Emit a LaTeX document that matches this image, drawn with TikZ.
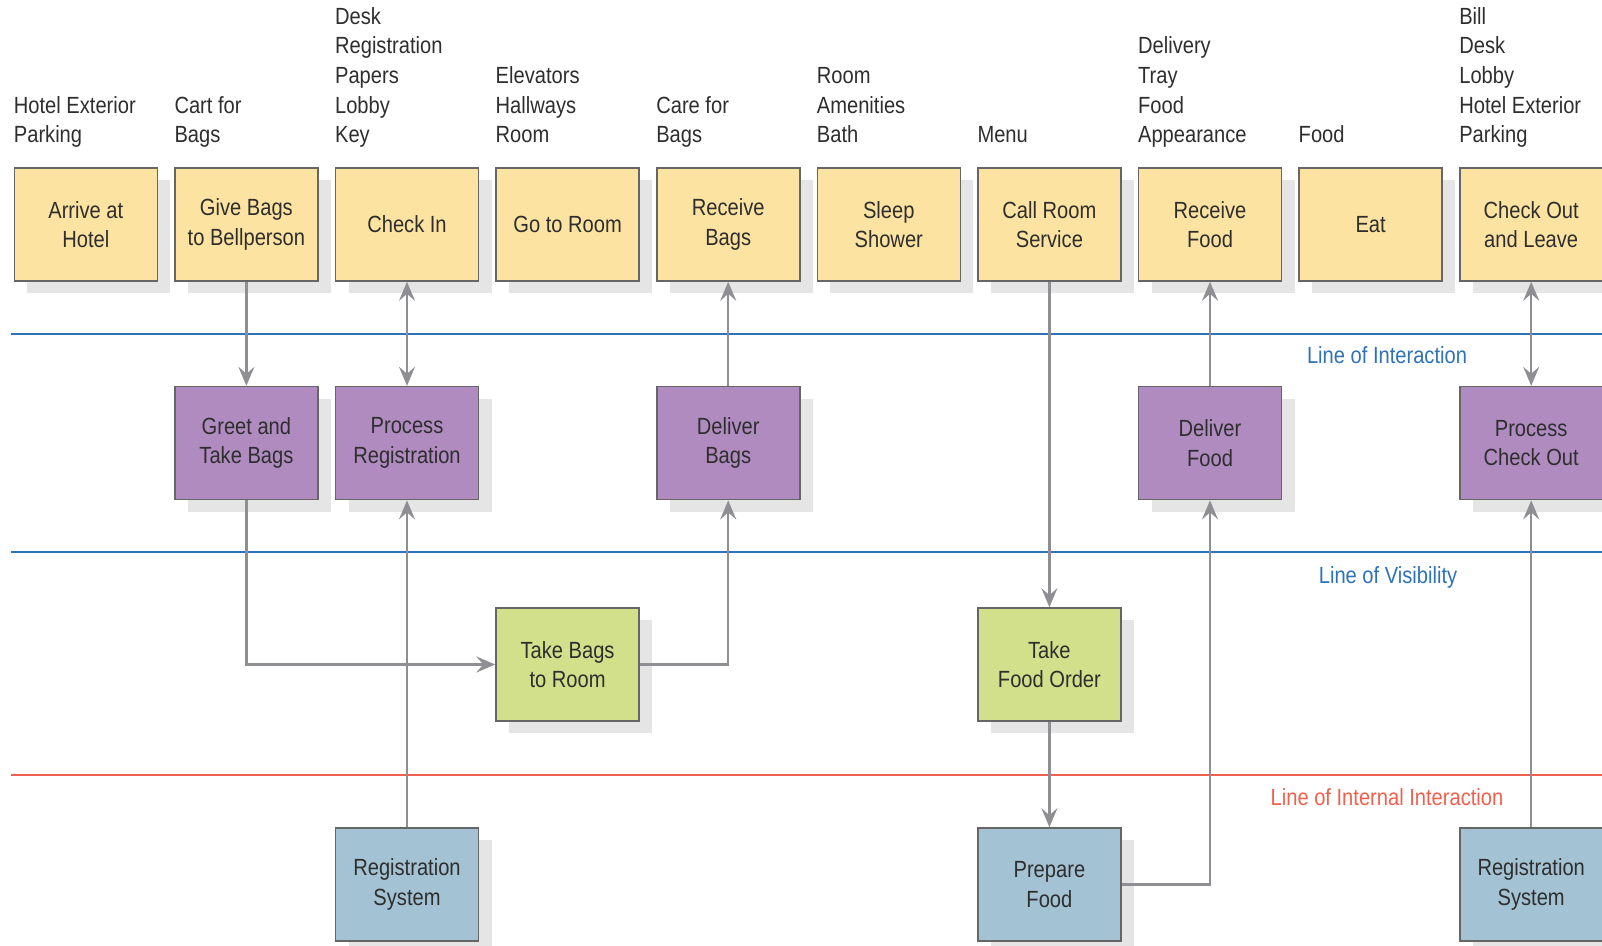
\documentclass[tikz,border=0pt]{standalone}
\usepackage{fontspec}
\setmainfont{Liberation Sans}[FakeStretch=0.86]
\usetikzlibrary{positioning,shadows,arrows.meta}

\definecolor{guestcol}{HTML}{FDE3A1}
\definecolor{onstagecol}{HTML}{B08BC0}
\definecolor{backstagecol}{HTML}{D2E08B}
\definecolor{supportcol}{HTML}{A3C2D3}
\definecolor{boxline}{HTML}{666666}
\definecolor{boxtext}{HTML}{2E2E2E}
\definecolor{arrowcol}{HTML}{8E8E93}
\definecolor{visblue}{HTML}{2E72B8}
\definecolor{intred}{HTML}{F0604D}

\tikzset{
  stepbox/.style={draw=boxline, line width=0.8pt, minimum width=71.5pt, minimum height=56.5pt,
    inner sep=0pt, align=center, text=boxtext,
    drop shadow={shadow xshift=6.5pt, shadow yshift=-6pt, fill=black!10, opacity=1}},
  guest/.style={stepbox, fill=guestcol},
  onstage/.style={stepbox, fill=onstagecol},
  backstage/.style={stepbox, fill=backstagecol},
  support/.style={stepbox, fill=supportcol},
  evid/.style={anchor=south west, inner sep=0pt, align=left, text=boxtext, yshift=7.6pt,
    execute at end node=\strut},
  flow/.style={draw=arrowcol, line width=1.1pt},
  blueline/.style={draw=visblue, line width=1pt},
  redline/.style={draw=intred, line width=1pt}
}

\begin{document}
\begin{tikzpicture}[x=0.5pt, y=-0.5pt, node distance=80.3pt,
  >={Stealth[length=9.5pt,width=8pt,inset=3.5pt]},
  every node/.style={align=center, font=\fontsize{11.7pt}{14.8pt}\selectfont}]
\useasboundingbox (0,0) rectangle (1602,946);

% the three lines
\draw[blueline] (11,334) -- (1602,334);
\draw[blueline] (11,552) -- (1602,552);
\draw[redline] (11,775) -- (1602,775);
\node (interaction) [text=visblue] at (1387,355) {Line of Interaction};
\node (visibility) [text=visblue] at (1388,577) {Line of Visibility};
\node (internal) [text=intred] at (1387,797) {Line of Internal Interaction};

% guest actions
\node (arrive) [guest] at (85.8,224.5) {Arrive at\\Hotel};
\node (givebags) [guest, right of=arrive] {Give Bags\\to Bellperson};
\node (checkin) [guest, right of=givebags] {Check In};
\node (goroom) [guest, right of=checkin] {Go to Room};
\node (receivebags) [guest, right of=goroom] {Receive\\Bags};
\node (sleep) [guest, right of=receivebags] {Sleep\\Shower};
\node (callroom) [guest, right of=sleep] {Call Room\\Service};
\node (receivefood) [guest, right of=callroom] {Receive\\Food};
\node (eat) [guest, right of=receivefood] {Eat};
\node (checkout) [guest, right of=eat] {Check Out\\and Leave};

% physical evidence
\node (arriveev) [evid] at (arrive.north west) {Hotel Exterior\\Parking};
\node (givebagsev) [evid] at (givebags.north west) {Cart for\\Bags};
\node (checkinev) [evid] at (checkin.north west) {Desk\\Registration\\Papers\\Lobby\\Key};
\node (goroomev) [evid] at (goroom.north west) {Elevators\\Hallways\\Room};
\node (receivebagsev) [evid] at (receivebags.north west) {Care for\\Bags};
\node (sleepev) [evid] at (sleep.north west) {Room\\Amenities\\Bath};
\node (callroomev) [evid] at (callroom.north west) {Menu};
\node (receivefoodev) [evid] at (receivefood.north west) {Delivery\\Tray\\Food\\Appearance};
\node (eatev) [evid] at (eat.north west) {Food};
\node (checkoutev) [evid] at (checkout.north west) {Bill\\Desk\\Lobby\\Hotel Exterior\\Parking};

% onstage contact
\node (greet) [onstage, below of=givebags, node distance=109.3pt] {Greet and\\Take Bags};
\node (procreg) [onstage, below of=checkin, node distance=109.3pt] {Process\\Registration};
\node (deliverbags) [onstage, below of=receivebags, node distance=109.3pt] {Deliver\\Bags};
\node (deliverfood) [onstage, below of=receivefood, node distance=109.3pt] {Deliver\\Food};
\node (proccheckout) [onstage, below of=checkout, node distance=109.3pt] {Process\\Check Out};

% backstage contact
\node (takebags) [backstage, below of=goroom, node distance=220pt] {Take Bags\\to Room};
\node (takeorder) [backstage, below of=callroom, node distance=220pt] {Take\\Food Order};

% support processes
\node (regsys) [support, below of=procreg, node distance=220.8pt] {Registration\\System};
\node (prepare) [support, below of=takeorder, node distance=110pt] {Prepare\\Food};
\node (regsystwo) [support, below of=proccheckout, node distance=220.8pt] {Registration\\System};

\draw[flow, ->] (givebags) -- (greet);
\draw[flow, <->] (checkin) -- (procreg);
\draw[flow, ->] (deliverbags) -- (receivebags);
\draw[flow, ->] (callroom) -- (takeorder);
\draw[flow, ->] (deliverfood) -- (receivefood);
\draw[flow, <->] (checkout) -- (proccheckout);
\draw[flow, ->] (greet.south) |- (takebags.west);
\draw[flow, ->] (takebags.east) -| (deliverbags.south);
\draw[flow, ->] (regsys) -- (procreg);
\draw[flow, ->] (takeorder) -- (prepare);
\draw[flow, ->] (prepare.east) -| (deliverfood.south);
\draw[flow, ->] (regsystwo) -- (proccheckout);
\end{tikzpicture}
\end{document}
